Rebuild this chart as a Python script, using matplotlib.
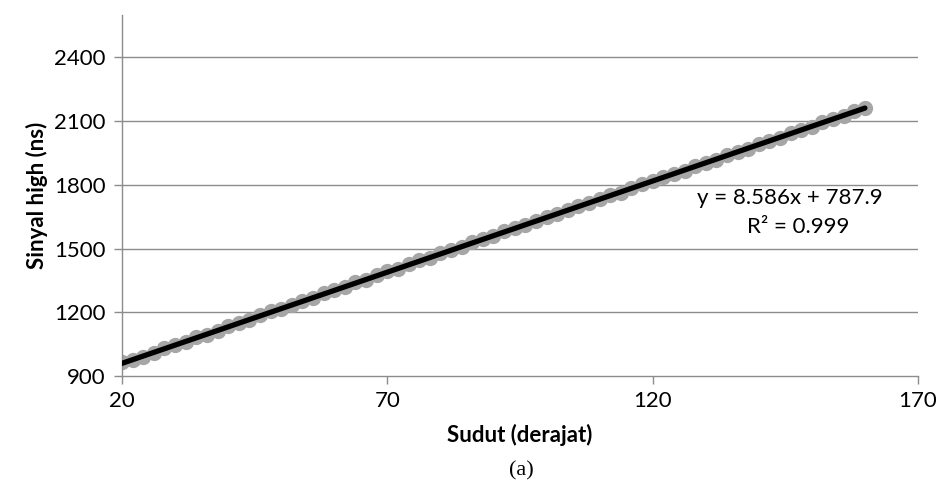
import matplotlib.pyplot as plt
import numpy as np

# measured high-signal time vs angle
sudut = list(range(20, 161, 2))
sinyal = [965, 975, 990, 1008, 1030, 1045, 1058, 1082, 1095, 1112,
          1136, 1150, 1163, 1186, 1205, 1214, 1236, 1255, 1266, 1290,
          1307, 1318, 1342, 1352, 1374, 1395, 1404, 1426, 1445, 1456,
          1480, 1495, 1507, 1533, 1546, 1558, 1584, 1597, 1610, 1632,
          1650, 1662, 1684, 1700, 1713, 1735, 1752, 1764, 1786, 1803,
          1816, 1838, 1853, 1867, 1890, 1905, 1919, 1941, 1957, 1971,
          1993, 2008, 2022, 2044, 2060, 2074, 2096, 2111, 2125, 2148,
          2163]

# linear trendline coefficients
slope = 8.586
intercept = 787.9
r2 = 0.999

x_ticks = [20, 70, 120, 170]
y_ticks = [900, 1200, 1500, 1800, 2100, 2400]

plt.rcParams['font.family'] = ['Lato', 'DejaVu Sans']

fig = plt.figure(figsize=(9.41, 4.95), dpi=100)
ax = fig.add_axes([122 / 941, 119 / 495, 796 / 941, 361 / 495])

grid_col = '#8c8c8c'
for yv in y_ticks[1:]:
    ax.axhline(yv, color=grid_col, lw=1.0, zorder=1)

ax.plot(sudut, sinyal, 'o', color='#a6a6a6', markersize=11, markeredgewidth=0, zorder=2)

xs = np.array([sudut[0], sudut[-1]])
ax.plot(xs, slope * xs + intercept, color='black', lw=3.8, solid_capstyle='round', zorder=3)

ax.set_xlim(20, 170)
ax.set_ylim(900, 2600)
ax.set_xticks(x_ticks)
ax.set_yticks(y_ticks)
ax.tick_params(axis='both', labelsize=16, color=grid_col, length=6, width=1)
ax.tick_params(axis='x', direction='out', pad=5)
ax.tick_params(axis='y', direction='out', pad=6)

for side in ['top', 'right']:
    ax.spines[side].set_visible(False)
for side in ['left', 'bottom']:
    ax.spines[side].set_color(grid_col)
    ax.spines[side].set_linewidth(1.0)

ax.set_xlabel('Sudut (derajat)', fontsize=16, fontweight='bold', labelpad=9)
ax.set_ylabel('Sinyal high (ns)', fontsize=16, fontweight='bold', labelpad=4)

fig.text(790 / 941, 1 - 198 / 495, 'y = 8.586x + 787.9', fontsize=16,
         ha='center', va='center')
fig.text(798 / 941, 1 - 227 / 495, 'R² = 0.999', fontsize=16,
         ha='center', va='center')

fig.text(521 / 941, 1 - 471 / 495, '(a)', family='Liberation Serif', fontsize=16,
         ha='center', va='center')

fig.savefig('out.png', dpi=100)
